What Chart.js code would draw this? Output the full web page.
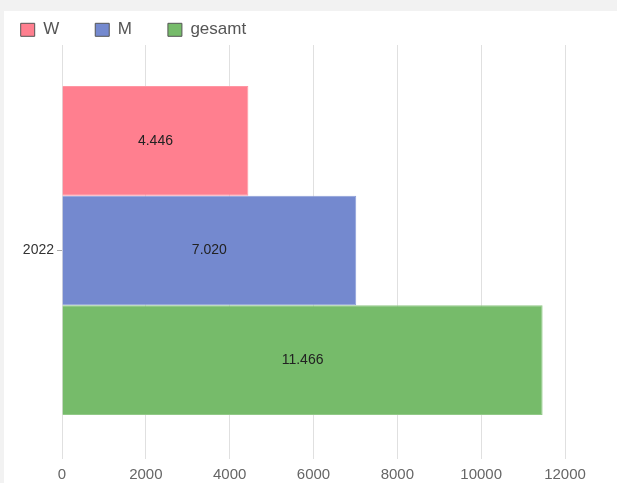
<!DOCTYPE html>
<html>
<head>
<meta charset="utf-8">
<script src="https://cdn.jsdelivr.net/npm/chart.js@4/dist/chart.umd.min.js"></script>
<style>
  html, body { margin: 0; padding: 0; background: #f2f2f2; overflow: hidden; }
  #wrap { position: absolute; left: 4px; top: 11px; width: 613px; height: 472px; background: #ffffff; }
  canvas { display: block; }
</style>
</head>
<body>
<div id="wrap"><canvas id="c" width="613" height="472"></canvas></div>
<script>
const categories = ['2022'];
const seriesNames = ['W', 'M', 'gesamt'];
const valuesW = [4446];
const valuesM = [7020];
const valuesGesamt = [11466];
const xTicks = [0, 2000, 4000, 6000, 8000, 10000, 12000];

const colors = ['rgb(255,127,143)', 'rgb(116,137,207)', 'rgb(118,187,106)'];
const edge = ['rgb(255,150,163)', 'rgb(140,158,216)', 'rgb(145,201,135)'];

function fmtDE(v) {
  return String(v).replace(/\B(?=(\d{3})+(?!\d))/g, '.');
}

const dataLabels = {
  id: 'dataLabels',
  afterDraw(chart) {
    const ctx = chart.ctx;
    ctx.save();
    ctx.font = '14px "Liberation Sans", Arial, sans-serif';
    ctx.fillStyle = '#222';
    ctx.textAlign = 'center';
    ctx.textBaseline = 'middle';
    chart.data.datasets.forEach((ds, i) => {
      const meta = chart.getDatasetMeta(i);
      meta.data.forEach((el, j) => {
        const p = el.getProps(['x', 'y', 'base'], true);
        ctx.fillText(fmtDE(ds.data[j]), (p.x + p.base) / 2, p.y);
      });
    });
    ctx.restore();
  }
};

new Chart(document.getElementById('c'), {
  type: 'bar',
  data: {
    labels: categories,
    datasets: [
      { label: seriesNames[0], data: valuesW, backgroundColor: colors[0], borderColor: edge[0], borderWidth: 1, borderSkipped: 'start' },
      { label: seriesNames[1], data: valuesM, backgroundColor: colors[1], borderColor: edge[1], borderWidth: 1, borderSkipped: 'start' },
      { label: seriesNames[2], data: valuesGesamt, backgroundColor: colors[2], borderColor: edge[2], borderWidth: 1, borderSkipped: 'start' }
    ]
  },
  options: {
    indexAxis: 'y',
    responsive: false,
    animation: false,
    devicePixelRatio: 1,
    datasets: { bar: { categoryPercentage: 0.8, barPercentage: 1.0 } },
    layout: { padding: { top: -25.7, left: -19.3, right: 52, bottom: -7 } },
    plugins: {
      tooltip: { enabled: false },
      legend: {
        position: 'top',
        align: 'start',
        maxHeight: 59.7,
        labels: {
          boxWidth: 14,
          boxHeight: 13,
          padding: 36,
          color: '#555',
          font: { size: 17, family: '"Liberation Sans", Arial, sans-serif' },
          generateLabels(chart) {
            return chart.data.datasets.map((ds, i) => ({
              text: ds.label,
              fillStyle: colors[i],
              strokeStyle: '#555',
              lineWidth: 1,
              hidden: false,
              datasetIndex: i,
              fontColor: '#555'
            }));
          }
        }
      }
    },
    scales: {
      x: {
        min: 0,
        max: 12000,
        z: 1,
        afterBuildTicks(scale) { scale.ticks = xTicks.map(v => ({ value: v })); },
        grid: { color: 'rgba(0,0,0,0.12)', tickLength: 3, drawTicks: true },
        border: { display: false },
        ticks: {
          padding: 6.5,
          color: '#666',
          font: { size: 15, family: '"Liberation Sans", Arial, sans-serif' },
          callback(value) { return String(value); }
        }
      },
      y: {
        afterFit(scale) { scale.width = 77.3; },
        grid: { drawOnChartArea: false, offset: false, tickLength: 5, color: '#aaa' },
        border: { display: false },
        ticks: {
          padding: 3,
          color: '#333',
          font: { size: 14, family: '"Liberation Sans", Arial, sans-serif' }
        }
      }
    }
  },
  plugins: [dataLabels]
});
</script>
</body>
</html>
